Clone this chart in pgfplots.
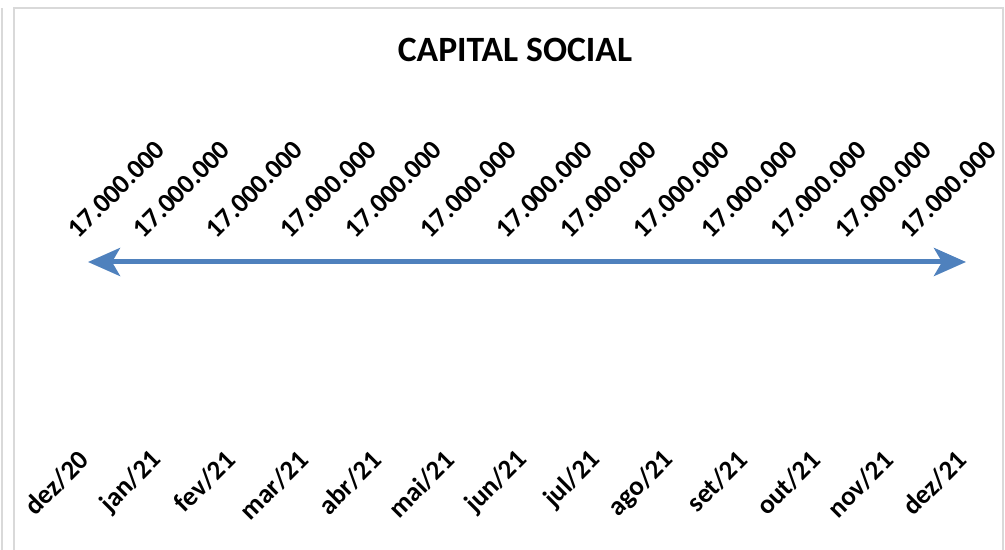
\documentclass[border=0pt]{standalone}
\usepackage{fontspec}
\setmainfont{Carlito}
\usepackage{pgfplots}
\pgfplotsset{compat=1.18}
\usetikzlibrary{arrows.meta}
\definecolor{lineblue}{RGB}{79,129,189}
\definecolor{framegray}{RGB}{217,217,217}
\begin{document}
\begin{tikzpicture}
\path[use as bounding box] (0,0) rectangle (502.5pt,275pt);
\fill[white] (0,0) rectangle (502.5pt,275pt);
\draw[framegray, line width=1pt] (1pt,-10pt) -- (1pt,271pt);
\draw[framegray, line width=1pt] (7pt,-10pt) -- (7pt,271pt) -- (501.3pt,271pt) -- (501.3pt,-10pt);
\begin{axis}[
  at={(44pt,49pt)}, anchor=south west,
  scale only axis, width=439pt, height=190pt,
  xmin=0, xmax=12, ymin=0, ymax=34000000,
  clip=false,
  axis line style={draw=none},
  tick style={draw=none},
  ytick=\empty,
  xtick={0,...,12},
  xticklabels={dez/20,jan/21,fev/21,mar/21,abr/21,mai/21,jun/21,jul/21,ago/21,set/21,out/21,nov/21,dez/21},
  xticklabel style={rotate=45, anchor=east, inner sep=0pt, xshift=-2.5pt, font=\fontsize{13.5}{16}\selectfont\bfseries},
  /pgf/number format/.cd, fixed, precision=0, 1000 sep={.}, assume math mode=true,
]
\addplot[lineblue, line width=2.5pt, {Stealth[length=16pt,width=14pt,inset=4pt]}-{Stealth[length=16pt,width=14pt,inset=4pt]}]
  coordinates {(0,17000000) (1,17000000) (2,17000000) (3,17000000) (4,17000000) (5,17000000) (6,17000000) (7,17000000) (8,17000000) (9,17000000) (10,17000000) (11,17000000) (12,17000000)};
\addplot[draw=none, mark=none, nodes near coords, point meta=y,
  every node near coord/.append style={xshift=4.5pt, yshift=11pt, rotate=45, anchor=south west, inner sep=0pt, font=\fontsize{13.5}{16}\selectfont\bfseries, text=black}]
  coordinates {(-0.246,17000000) (0.642,17000000) (1.640,17000000) (2.651,17000000) (3.540,17000000) (4.565,17000000) (5.603,17000000) (6.478,17000000) (7.476,17000000) (8.405,17000000) (9.348,17000000) (10.236,17000000) (11.125,17000000)};
\end{axis}
\node[font=\fontsize{17.8}{21}\selectfont\bfseries, anchor=base] at (257.5pt,244pt) {CAPITAL SOCIAL};
\end{tikzpicture}
\end{document}
